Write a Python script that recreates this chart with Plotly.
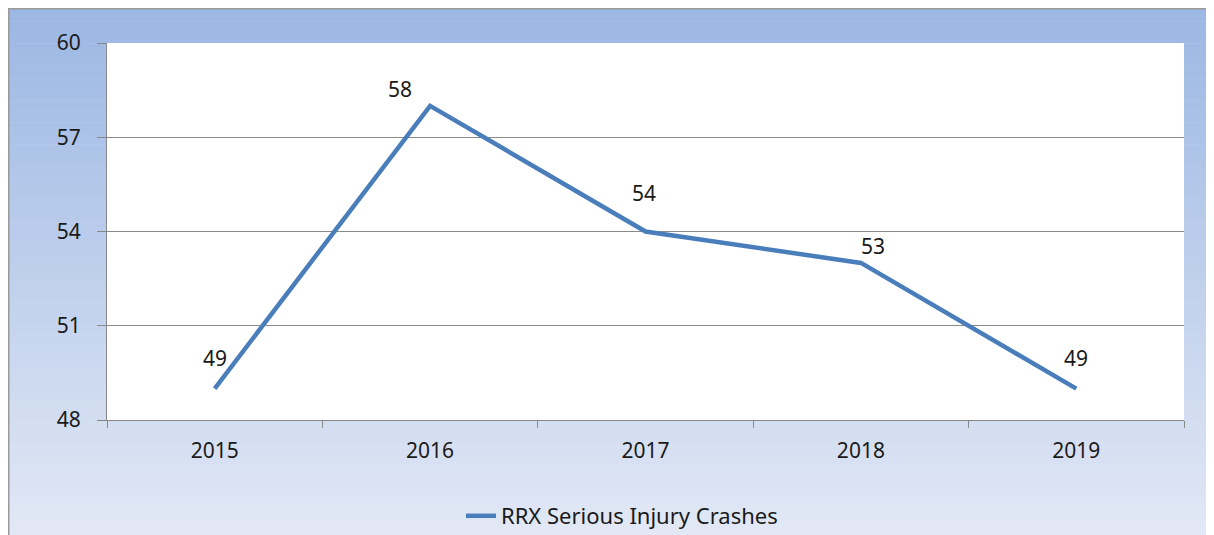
import plotly.graph_objects as go

years = ["2015", "2016", "2017", "2018", "2019"]
crashes = [49, 58, 54, 53, 49]
series_name = "RRX Serious Injury Crashes"
y_ticks = [48, 51, 54, 57, 60]

# label offsets (style only)
lbl_dx = [0, -30, -2, 12, 0]
lbl_dy = [31, 17, 39, 17, 31]

FONT = "Noto Sans"
FS = 21
TXT = "#1a1a1a"

# page is rendered with an 8px body margin -> figure coords = page - 8
W, H = 1206, 527
L, R, T, B = 99, 1176, 35, 412
pw, ph = R - L, B - T

def px2x(px):
    return (px - L) / pw

def py2y(py):
    return (B - py) / ph

fig = go.Figure()
fig.add_trace(go.Scatter(
    x=years, y=crashes, mode="lines", name=series_name,
    line=dict(color="#4A7EBB", width=4.5),
))

for i, v in enumerate(crashes):
    fig.add_annotation(x=i, y=v, text=str(v), showarrow=False,
                       xshift=lbl_dx[i], yshift=lbl_dy[i],
                       font=dict(family=FONT, size=FS, color=TXT))

# gradient background strips
top_c = (155, 183, 227)
bot_c = (226, 232, 245)
n = 120
y_start, y_end = 0, H
shapes = []
for k in range(n):
    p0 = y_start + (y_end - y_start) * k / n
    p1 = y_start + (y_end - y_start) * (k + 1) / n + 0.6
    t = (k + 0.5) / n
    c = tuple(int(round(top_c[j] + (bot_c[j] - top_c[j]) * t)) for j in range(3))
    shapes.append(dict(type="rect", xref="paper", yref="paper", layer="below",
                       x0=px2x(0), x1=px2x(W + 5), y0=py2y(p1), y1=py2y(p0),
                       fillcolor="rgb(%d,%d,%d)" % c, line=dict(width=0)))
# white plot area
shapes.append(dict(type="rect", xref="paper", yref="paper", layer="below",
                   x0=0, x1=1, y0=0, y1=1, fillcolor="white", line=dict(width=0)))
# outer border
shapes.append(dict(type="rect", xref="paper", yref="paper", layer="below",
                   x0=px2x(0.5), x1=px2x(W + 10), y0=py2y(H + 10), y1=py2y(0.5),
                   fillcolor="rgba(0,0,0,0)", line=dict(color="#9a9a9a", width=2)))

fig.update_layout(
    width=W, height=H,
    margin=dict(l=L, r=W - R, t=T, b=H - B, autoexpand=False),
    paper_bgcolor="white", plot_bgcolor="white",
    shapes=shapes,
    showlegend=True,
    legend=dict(orientation="h", x=px2x(622 - 8), xanchor="center",
                y=py2y(516 - 8), yanchor="middle", bgcolor="rgba(0,0,0,0)",
                font=dict(family=FONT, size=22, color=TXT)),
    xaxis=dict(type="category", range=[-0.5, 4.5], tickson="boundaries",
               ticks="outside", ticklen=7,
               tickcolor="#888888", showline=True, linecolor="#888888", linewidth=1,
               showgrid=False, ticklabelstandoff=12, tickangle=0,
               tickfont=dict(family=FONT, size=FS, color=TXT)),
    yaxis=dict(range=[48, 60], tickvals=y_ticks, ticks="outside", ticklen=9,
               tickcolor="#888888", showline=True, linecolor="#888888", linewidth=1,
               showgrid=True, gridcolor="#8a8a8a", gridwidth=1, zeroline=False,
               ticklabelstandoff=12,
               tickfont=dict(family=FONT, size=FS, color=TXT)),
)

fig.write_html("out.html")
